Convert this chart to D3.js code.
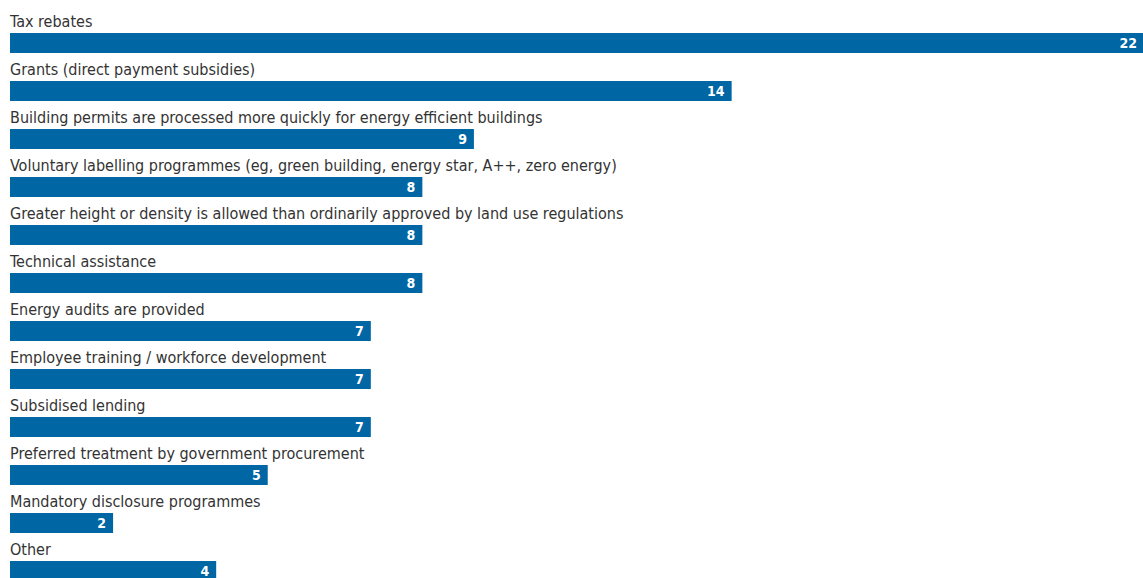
<!DOCTYPE html>
<html>
<head>
<meta charset="utf-8">
<script src="https://cdn.jsdelivr.net/npm/d3@7"></script>
<style>
  html, body { margin: 0; padding: 0; background: #fff; }
  svg { display: block; }
</style>
</head>
<body>
<svg id="chart" width="1143" height="578"></svg>
<script>
// Incentives offered, number of responses
const categories = [
  "Tax rebates",
  "Grants (direct payment subsidies)",
  "Building permits are processed more quickly for energy efficient buildings",
  "Voluntary labelling programmes (eg, green building, energy star, A++, zero energy)",
  "Greater height or density is allowed than ordinarily approved by land use regulations",
  "Technical assistance",
  "Energy audits are provided",
  "Employee training / workforce development",
  "Subsidised lending",
  "Preferred treatment by government procurement",
  "Mandatory disclosure programmes",
  "Other"
];
const values = [22, 14, 9, 8, 8, 8, 7, 7, 7, 5, 2, 4];

const svg = d3.select("#chart");
const rowStep = 48, barTop = 33, barH = 20, left = 10;

const x = d3.scaleLinear().domain([0, 22]).range([left, 1144]);
const y = d3.scaleBand().domain(d3.range(categories.length))
  .range([0, rowStep * categories.length]).paddingInner(0).paddingOuter(0);

const row = svg.selectAll("g.row")
  .data(categories.map((c, i) => ({ c, v: values[i], i })))
  .join("g").attr("class", "row")
  .attr("transform", d => `translate(0,${y(d.i)})`);

row.append("text")
  .attr("x", left)
  .attr("y", 27)
  .attr("fill", "#333")
  .style("font-family", "'DejaVu Sans Condensed', sans-serif")
  .style("font-stretch", "condensed")
  .style("font-size", "16px")
  .text(d => d.c);

row.append("rect")
  .attr("x", x(0))
  .attr("y", barTop)
  .attr("width", d => x(d.v) - x(0))
  .attr("height", barH)
  .attr("fill", "#0066a4");

row.append("text")
  .attr("x", d => x(d.v) - 7)
  .attr("y", barTop + 15)
  .attr("text-anchor", "end")
  .attr("fill", "#fff")
  .style("font-family", "'DejaVu Sans Condensed', sans-serif")
  .style("font-stretch", "condensed")
  .style("font-weight", "bold")
  .style("font-size", "14px")
  .text(d => d.v);
</script>
</body>
</html>
